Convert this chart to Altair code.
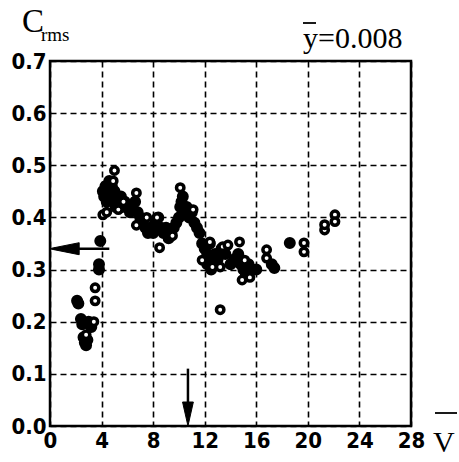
import altair as alt
import pandas as pd

# filled markers
fx = [2.1, 2.2, 2.4, 2.5, 2.6, 2.7, 2.8, 2.9, 3.0, 3.2, 3.8, 3.8, 3.9,
      4.1, 4.2, 4.3, 4.4, 4.5, 4.6, 4.7, 4.8, 4.9, 5.0, 5.1, 5.2, 5.3, 5.5, 5.6, 5.8,
      6.0, 6.2, 6.4, 6.6, 6.8, 7.0, 7.2, 7.4, 7.6, 7.8, 8.0, 8.2, 8.4, 8.6, 8.8,
      9.0, 9.2, 9.4, 9.6, 9.8, 10.0, 10.1, 10.2, 10.3, 10.4, 10.6, 10.8, 11.0,
      11.2, 11.4, 11.6, 11.8, 12.0, 12.2, 12.4, 12.6, 12.8, 13.0,
      13.3, 13.6, 14.0, 14.3, 14.6, 14.8, 15.0, 15.2, 15.4, 15.6, 16.0, 12.2, 12.5,
      17.2, 17.4, 18.6]
fy = [0.24, 0.235, 0.205, 0.195, 0.17, 0.16, 0.155, 0.165, 0.20, 0.19, 0.31, 0.30, 0.355,
      0.45, 0.44, 0.46, 0.43, 0.45, 0.47, 0.44, 0.46, 0.43, 0.45, 0.42, 0.44, 0.43, 0.44, 0.42, 0.43,
      0.42, 0.41, 0.42, 0.43, 0.41, 0.40, 0.39, 0.38, 0.37, 0.38, 0.37, 0.39, 0.40, 0.38, 0.37,
      0.38, 0.36, 0.37, 0.38, 0.39, 0.40, 0.42, 0.43, 0.44, 0.41, 0.42, 0.40, 0.41,
      0.39, 0.38, 0.37, 0.35, 0.34, 0.33, 0.35, 0.32, 0.33, 0.32,
      0.34, 0.33, 0.31, 0.32, 0.33, 0.31, 0.30, 0.29, 0.31, 0.30, 0.30, 0.31, 0.30,
      0.31, 0.303, 0.351]

# open markers
ox = [3.5, 3.5, 3.4, 2.8,
      4.1, 4.4, 5.0, 4.9, 5.3, 6.7, 6.7, 8.5, 10.1, 11.1, 5.7, 7.5, 9.5, 8.3,
      12.6, 13.2, 13.4, 13.8, 14.7, 15.1, 14.9, 15.5, 12.4, 11.8, 13.2,
      16.8, 16.8, 19.7, 19.7, 21.3, 21.3, 22.1, 22.1]
oy = [0.265, 0.24, 0.20, 0.175,
      0.405, 0.41, 0.49, 0.47, 0.415, 0.447, 0.385, 0.342, 0.457, 0.415, 0.43, 0.40, 0.365, 0.40,
      0.305, 0.305, 0.344, 0.347, 0.353, 0.318, 0.28, 0.285, 0.353, 0.318, 0.223,
      0.338, 0.322, 0.351, 0.334, 0.376, 0.386, 0.405, 0.392]

x_ticks = [0, 4, 8, 12, 16, 20, 24, 28]
y_ticks = [0.0, 0.1, 0.2, 0.3, 0.4, 0.5, 0.6, 0.7]

# arrows (data coordinates)
h_arrow_y = 0.34
h_arrow_x = [4.6, 0.3]
v_arrow_x = 10.7
v_arrow_y = [0.11, 0.02]

W, H = 361, 365

filled = pd.DataFrame({"x": fx, "y": fy})
opened = pd.DataFrame({"x": ox, "y": oy})

xs = alt.Scale(domain=[0, 28], nice=False, zero=False)
ys = alt.Scale(domain=[0, 0.7], nice=False, zero=False)

label_font = "DejaVu Sans Condensed, Liberation Sans Narrow, Liberation Sans, sans-serif"

base_x = alt.X("x:Q", scale=xs, axis=alt.Axis(values=x_ticks, title=None, labelFontSize=22,
               labelFont=label_font, labelFontWeight="bold", labelColor="black",
               ticks=False, domain=False, labelPadding=4,
               gridDash=[6, 4], gridColor="black", gridWidth=1.6, gridOpacity=1,
               labelFlush=False))
base_y = alt.Y("y:Q", scale=ys, axis=alt.Axis(values=y_ticks, title=None, labelFontSize=22,
               labelFont=label_font, labelFontWeight="bold", labelColor="black",
               ticks=False, domain=False, labelPadding=4, format=".1f",
               gridDash=[6, 4], gridColor="black", gridWidth=1.6, gridOpacity=1,
               labelFlush=False))

pts_f = alt.Chart(filled).mark_point(shape="circle", size=90, filled=True, fill="black",
                                     stroke="black", strokeWidth=2.5, opacity=1).encode(x=base_x, y=base_y)
pts_o = alt.Chart(opened).mark_point(shape="circle", size=55, filled=True, fill="white",
                                     stroke="black", strokeWidth=3.5, opacity=1).encode(
    x=alt.X("x:Q", scale=xs), y=alt.Y("y:Q", scale=ys))

harrow = pd.DataFrame({"x": [h_arrow_x[0]], "x2": [h_arrow_x[1]], "y": [h_arrow_y]})
h_shaft = alt.Chart(harrow).mark_rule(color="black", strokeWidth=2.5).encode(
    x=alt.X("x:Q", scale=xs), x2="x2:Q", y=alt.Y("y:Q", scale=ys))
h_head = alt.Chart(pd.DataFrame({"x": [1.1], "y": [h_arrow_y]})).mark_point(
    shape="M-1,0L1,-0.4L1,0.4Z", size=900, filled=True, fill="black", stroke="black",
    strokeWidth=1, opacity=1).encode(x=alt.X("x:Q", scale=xs), y=alt.Y("y:Q", scale=ys))

varrow = pd.DataFrame({"x": [v_arrow_x], "y": [v_arrow_y[0]], "y2": [v_arrow_y[1]]})
v_shaft = alt.Chart(varrow).mark_rule(color="black", strokeWidth=2.5).encode(
    x=alt.X("x:Q", scale=xs), y=alt.Y("y:Q", scale=ys), y2="y2:Q")
v_head = alt.Chart(pd.DataFrame({"x": [v_arrow_x], "y": [0.023]})).mark_point(
    shape="M0,1L-0.45,-1L0.45,-1Z", size=576, filled=True, fill="black", stroke="black",
    strokeWidth=1, opacity=1).encode(x=alt.X("x:Q", scale=xs), y=alt.Y("y:Q", scale=ys))

serif = "Liberation Serif"
c_txt = alt.Chart(pd.DataFrame({"t": ["C"]})).mark_text(
    font=serif, fontSize=33, align="left", baseline="alphabetic", color="black").encode(
    text="t:N", x=alt.value(-28), y=alt.value(-29))
rms_txt = alt.Chart(pd.DataFrame({"t": ["rms"]})).mark_text(
    font=serif, fontSize=19, align="left", baseline="alphabetic", color="black").encode(
    text="t:N", x=alt.value(-9), y=alt.value(-20))
ybar_txt = alt.Chart(pd.DataFrame({"t": ["y=0.008"]})).mark_text(
    font=serif, fontSize=30, align="left", baseline="alphabetic", color="black").encode(
    text="t:N", x=alt.value(253), y=alt.value(-13))
ybar_line = alt.Chart(pd.DataFrame({"a": [0]})).mark_rule(color="black", strokeWidth=1.8).encode(
    x=alt.value(253), x2=alt.value(266), y=alt.value(-38))
v_txt = alt.Chart(pd.DataFrame({"t": ["V"]})).mark_text(
    font=serif, fontSize=30, align="left", baseline="alphabetic", color="black").encode(
    text="t:N", x=alt.value(383), y=alt.value(391))
v_line = alt.Chart(pd.DataFrame({"a": [0]})).mark_rule(color="black", strokeWidth=1.8).encode(
    x=alt.value(385), x2=alt.value(407), y=alt.value(352))

chart = alt.layer(pts_f, pts_o, h_shaft, h_head, v_shaft, v_head,
                  c_txt, rms_txt, ybar_txt, ybar_line, v_txt, v_line).properties(
    width=W, height=H,
    autosize=alt.AutoSizeParams(type="none"),
    padding={"left": 50, "top": 61, "right": 48, "bottom": 36},
    background="white",
).configure_view(stroke="black", strokeWidth=2.5)

chart.save("out.html", embed_options={"renderer": "svg", "actions": False})
